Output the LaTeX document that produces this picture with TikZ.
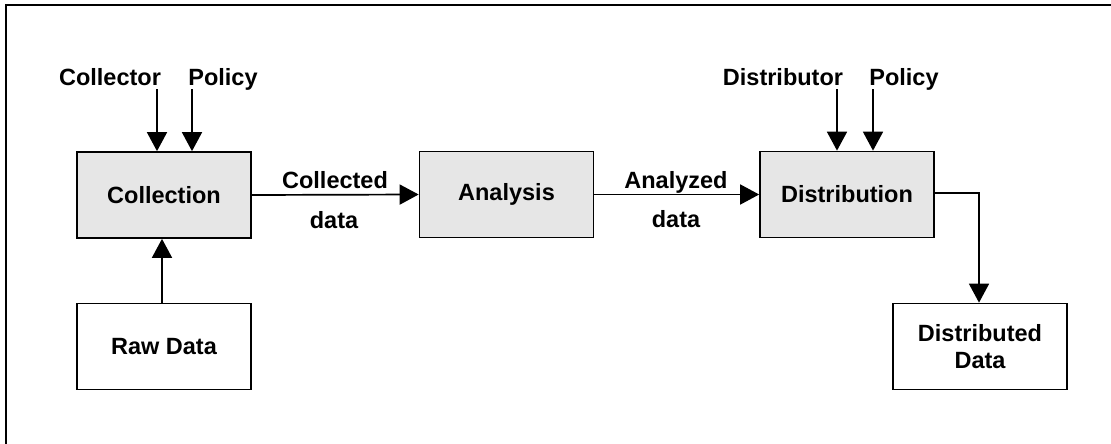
\documentclass[tikz,border=0pt]{standalone}
\usepackage{fontspec}
\setmainfont{Liberation Sans}
\usetikzlibrary{arrows.meta}
\definecolor{boxgray}{RGB}{230,230,230}
\tikzset{
  x=1pt, y=-1pt,
  blk/.style={draw=black, line width=1.7pt, fill=boxgray, minimum width=174pt, minimum height=86pt, inner sep=0pt, font=\fontsize{23.5}{27}\selectfont\bfseries, align=center},
  plain/.style={blk, fill=white},
  lbl/.style={inner sep=0pt, anchor=base, font=\fontsize{23.5}{27}\selectfont\bfseries},
  conn/.style={line width=1.7pt, -{Triangle[length=19pt, width=20pt]}},
}
\begin{document}
\begin{tikzpicture}
\useasboundingbox (0,0) rectangle (1111,444);
\draw[line width=1.8pt] (6,444) -- (6,5) -- (1111,5);

\node[blk] (coll) at (164,195) {Collection};
\node[plain] (raw) at (164,346.5) {Raw Data};
\node[blk] (ana) at (506.5,194.5) {Analysis};
\node[blk] (dist) at (847,194.5) {Distribution};
\node[plain] (dd) at (980,346.5) {Distributed\\Data};

\node[lbl] (lcol) at (110,85) {Collector};
\node[lbl] (lpol1) at (223,85) {Policy};
\node[lbl] (ldist) at (783,85) {Distributor};
\node[lbl] (lpol2) at (904,85) {Policy};

\coordinate (c1) at (157,89);
\coordinate (c2) at (192,89);
\coordinate (d1) at (837,89);
\coordinate (d2) at (873,89);

\draw[conn] (c1) -- (c1 |- coll.north);
\draw[conn] (c2) -- (c2 |- coll.north);
\draw[conn] (d1) -- (d1 |- dist.north);
\draw[conn] (d2) -- (d2 |- dist.north);
\draw[conn] (raw.north -| 162,0) -- (coll.south -| 162,0);

\draw[conn] (coll.east) -- (ana.west);
\draw[conn] (ana.east) -- (dist.west);
\draw[conn] (dist.east |- 0,193) -- (979,193) -- (dd.north -| 979,0);

\node[lbl] (t1) at (335,188) {Collected};
\node[lbl] (t2) at (334,228) {data};
\node[lbl] (t3) at (676,188) {Analyzed};
\node[lbl] (t4) at (676,227) {data};
\end{tikzpicture}
\end{document}
